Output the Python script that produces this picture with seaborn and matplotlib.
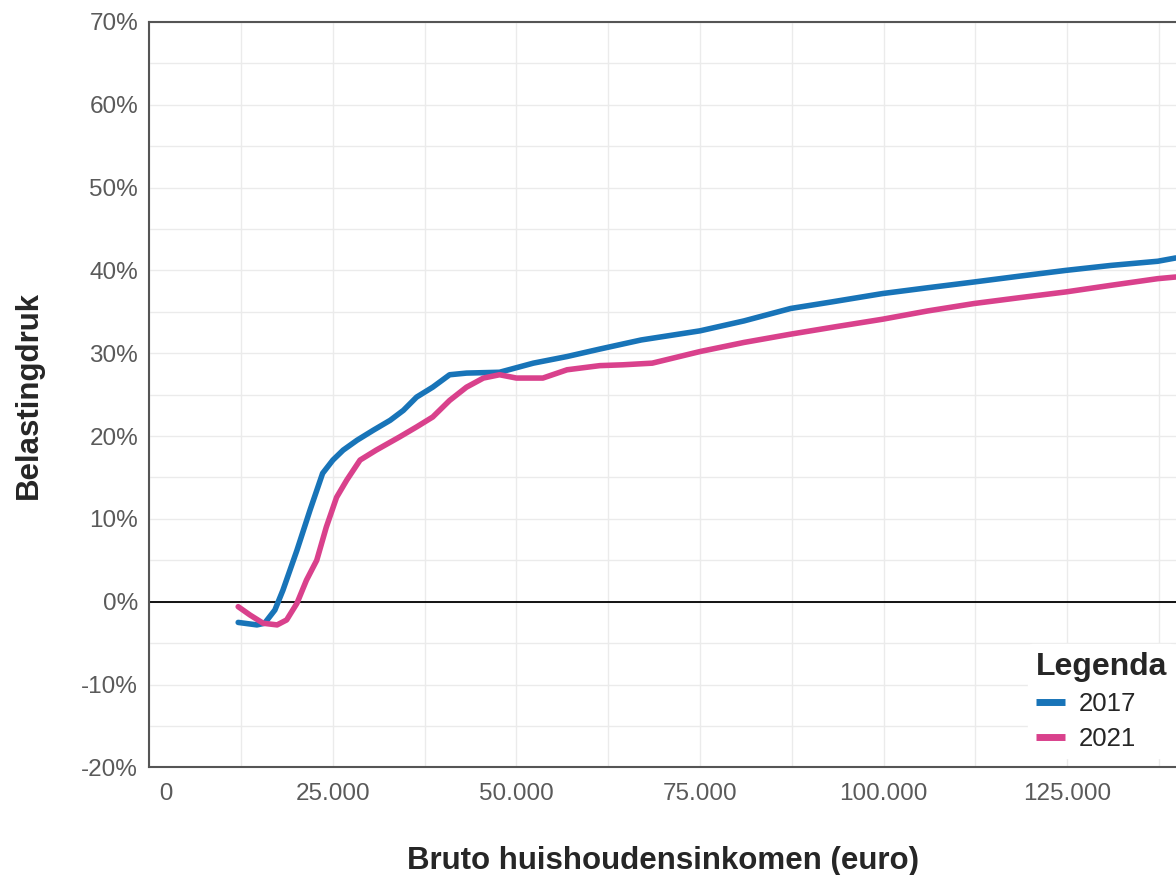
import seaborn as sns
import matplotlib
matplotlib.use("Agg")
import matplotlib.pyplot as plt
from matplotlib.ticker import FuncFormatter, MultipleLocator
import pandas as pd


# inkomen (euro) en belastingdruk (%)
inkomen_2017 = [12100, 14650, 15700, 17100, 18200, 20100, 21900, 23600, 25000, 26400,
                28300, 30500, 32800, 34600, 36400, 38600, 40900, 43200, 47700, 52300,
                56900, 61350, 67000, 75000, 81000, 87350, 93000, 99850, 106000, 112350,
                118500, 124850, 131000, 137350, 139800]
druk_2017 = [-2.5, -2.8, -2.6, -1.0, 1.4, 6.2, 11.1, 15.5, 17.1, 18.3,
             19.5, 20.7, 21.9, 23.1, 24.7, 25.9, 27.4, 27.6, 27.7, 28.8,
             29.6, 30.5, 31.6, 32.7, 33.9, 35.4, 36.2, 37.2, 37.9, 38.6,
             39.3, 40.0, 40.6, 41.1, 41.5]

inkomen_2021 = [12100, 13700, 15500, 17400, 18700, 20100, 21400, 22800, 24100, 25500,
                26900, 28700, 30900, 34100, 36400, 38600, 40900, 43200, 45500, 47700,
                50000, 53600, 56900, 61350, 64500, 68500, 75000, 81000, 87350, 93500,
                99850, 106000, 112350, 118500, 124850, 131000, 137350, 139800]
druk_2021 = [-0.6, -1.6, -2.6, -2.8, -2.2, -0.2, 2.6, 5.0, 9.0, 12.6,
             14.7, 17.1, 18.3, 19.9, 21.1, 22.3, 24.3, 25.9, 27.0, 27.4,
             27.0, 27.0, 28.0, 28.5, 28.6, 28.8, 30.2, 31.3, 32.3, 33.2,
             34.1, 35.1, 36.0, 36.7, 37.4, 38.2, 39.0, 39.2]

jaren = ["2017", "2021"]
kleuren = ["#1874b8", "#d9418c"]


def maak_dataframe():
    df17 = pd.DataFrame({"inkomen": inkomen_2017, "druk": druk_2017, "Legenda": jaren[0]})
    df21 = pd.DataFrame({"inkomen": inkomen_2021, "druk": druk_2021, "Legenda": jaren[1]})
    return pd.concat([df17, df21], ignore_index=True)


def euro(v, p):
    # het label "0" staat in het origineel iets naar rechts
    if v == 0:
        return "\u2007\u2007 0"
    return f"{int(v):,}".replace(",", ".")


def grafiek(df):
    sns.set_theme(style="white")
    plt.rcParams["font.family"] = ["Liberation Sans", "DejaVu Sans"]

    fig = plt.figure(figsize=(11.76, 8.75), dpi=100)
    ax = fig.add_axes([0.127, 0.123, 0.874, 0.852])

    sns.lineplot(data=df, x="inkomen", y="druk", hue="Legenda", hue_order=jaren,
                 palette=kleuren, linewidth=4, ax=ax)

    ax.axhline(0, color="black", linewidth=1.3, zorder=1)

    ax.set_xlim(0, 140000)
    ax.set_ylim(-20, 70)
    ax.xaxis.set_major_locator(MultipleLocator(25000))
    ax.xaxis.set_minor_locator(MultipleLocator(12500))
    ax.yaxis.set_major_locator(MultipleLocator(10))
    ax.yaxis.set_minor_locator(MultipleLocator(5))
    ax.xaxis.set_major_formatter(FuncFormatter(euro))
    ax.yaxis.set_major_formatter(FuncFormatter(lambda v, p: f"{int(v)}%"))

    ax.grid(which="both", color="#ebebeb", linewidth=1)
    ax.set_axisbelow(True)
    ax.tick_params(axis="both", which="both", length=0, labelsize=17.5, labelcolor="#5a5a5a")
    ax.tick_params(axis="x", pad=11)
    ax.tick_params(axis="y", pad=8)

    for kant in ["left", "bottom", "top"]:
        ax.spines[kant].set_color("#555555")
        ax.spines[kant].set_linewidth(1.5)
    ax.spines["right"].set_visible(False)

    ax.set_xlabel("Bruto huishoudensinkomen (euro)", fontsize=22.5, fontweight="bold")
    ax.set_ylabel("Belastingdruk", fontsize=22.5, fontweight="bold")
    ax.xaxis.set_label_coords(0.5, -0.105)
    ax.yaxis.set_label_coords(-0.103, 0.5)

    leg = ax.legend(title="Legenda", loc="lower right", bbox_to_anchor=(1.01, -0.005),
                    fontsize=18.5, title_fontsize=23, frameon=True, handlelength=1.15,
                    handletextpad=0.55, labelspacing=0.4, borderpad=0.3)
    leg.get_title().set_fontweight("bold")
    leg._legend_box.align = "left"
    leg.get_frame().set_edgecolor("white")
    leg.get_frame().set_alpha(1)
    for lijn in leg.get_lines():
        lijn.set_linewidth(5)
        lijn.set_solid_capstyle("butt")

    fig.savefig("out.png", dpi=100)


def main():
    df = maak_dataframe()
    grafiek(df)


if __name__ == "__main__":
    main()
